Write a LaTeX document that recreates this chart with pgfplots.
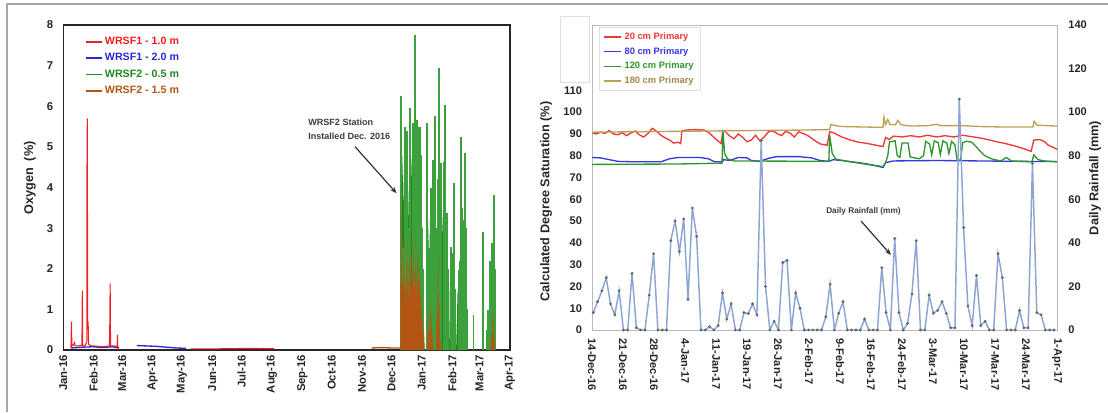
\documentclass[border=0pt]{standalone}
\usepackage{pgfplots}
\pgfplotsset{compat=1.18}
\usepackage{fontspec}
\setmainfont{Liberation Sans}
\usetikzlibrary{arrows.meta}

\definecolor{wred}{RGB}{240,30,30}
\definecolor{wblue}{RGB}{40,40,215}
\definecolor{wgreen}{RGB}{30,135,30}
\definecolor{wgreenlt}{RGB}{60,160,60}
\definecolor{wbrown}{RGB}{180,85,20}
\definecolor{r20}{RGB}{238,55,55}
\definecolor{b80}{RGB}{55,55,225}
\definecolor{g120}{RGB}{45,150,45}
\definecolor{t180}{RGB}{190,160,85}
\definecolor{rain}{RGB}{140,165,210}
\definecolor{annot}{RGB}{60,60,60}

\begin{document}
\begin{tikzpicture}
\path[use as bounding box] (0,0) rectangle (831pt,309pt);
\draw[gray!70, line width=0.8pt] (5.25pt,0pt) -- (5.25pt,306pt) -- (831pt,306pt);
% empty grey box left over in the source image
\draw[gray!25, line width=0.6pt] (420pt,247.5pt) rectangle (441.75pt,297pt);

%% ---------------- left panel: oxygen ----------------
\begin{axis}[
  at={(47.5pt,46.5pt)}, anchor=south west,
  scale only axis, width=335pt, height=243.75pt,
  xmin=0, xmax=456, ymin=0, ymax=8,
  ytick={0,1,...,8},
  xtick={0,31,60,91,121,152,182,213,244,274,305,335,366,397,425,456},
  xticklabels={Jan-16,Feb-16,Mar-16,Apr-16,May-16,Jun-16,Jul-16,Aug-16,Sep-16,Oct-16,Nov-16,Dec-16,Jan-17,Feb-17,Mar-17,Apr-17},
  x tick label style={rotate=90, anchor=east},
  tick label style={font=\bfseries\fontsize{8.5}{10}\selectfont, text=black!85},
  yticklabel shift=4pt,
  /pgf/number format/assume math mode=true,
  major tick length=0pt,
  axis line style={black!85, line width=1.2pt},
  legend style={at={(0.040,0.980)}, anchor=north west, draw=none, fill=none,
    font=\bfseries\fontsize{8}{9.5}\selectfont, row sep=1.2pt},
  legend cell align=left,
  legend image code/.code={\draw[#1] (0pt,0pt) -- (11.5pt,0pt);},
]
\addlegendimage{wred, line width=1.1pt}
\addlegendentry{\textcolor{wred}{WRSF1 - 1.0 m}}
\addlegendimage{wblue, line width=1.1pt}
\addlegendentry{\textcolor{wblue}{WRSF1 - 2.0 m}}
\addlegendimage{wgreen, line width=1.1pt}
\addlegendentry{\textcolor{wgreen}{WRSF2 - 0.5 m}}
\addlegendimage{wbrown, line width=1.1pt}
\addlegendentry{\textcolor{wbrown}{WRSF2 - 1.5 m}}

% WRSF1 - 2.0 m
\addplot[wblue, line width=1pt, forget plot] coordinates {
(8,0.05)(14,0.06)(20,0.07)(30,0.08)(40,0.06)(50,0.08)(57,0.05)};
\addplot[wblue, line width=1pt, forget plot] coordinates {
(75,0.11)(85,0.1)(95,0.09)(105,0.07)(115,0.05)(125,0.04)};
% WRSF1 - 1.0 m
\addplot[wred, line width=0.8pt, forget plot] coordinates {
(7.8,0.05)(8.3,0.7)(8.7,0.1)(10,0.12)(11.5,0.18)(12,0.1)(15,0.1)(19,0.12)(19.4,1.46)
(19.8,0.1)(22,0.1)(24,0.2)(24.2,4.68)(24.5,5.7)(24.8,0.6)(25.3,0.7)(25.8,0.15)(28,0.1)
(32,0.1)(40,0.08)(47,0.1)(47.4,0.57)(47.8,1.64)(48.2,0.1)(52,0.1)(55,0.08)(55.2,0.37)
(55.6,0.05)(56,0)};
\addplot[wred, line width=0.8pt, forget plot] coordinates {
(130,0.03)(160,0.03)(190,0.04)(215,0.03)};
% WRSF2 - 0.5 m
\addplot[fill=wgreen, draw=none, forget plot] coordinates {
(344,0)(344.5,4.5)(345.5,3.8)(346.5,4.8)(347.5,3.5)(348.5,4.2)(349.5,3.0)(350.5,4.5)
(351.5,2.5)(352.5,3.8)(353.5,4.5)(354.5,3.2)(355.5,4.8)(356.5,3.5)(357.5,4.2)(358.5,3.0)
(359.5,5.0)(360.5,4.0)(361.5,4.5)(362.5,3.5)(363.5,4.8)(364.5,4.2)(365.5,3.0)(366.5,2.0)
(367.5,1.0)(368.5,0.3)(369,0)(370.5,0)(371,1.5)(371.5,3.8)(372.5,3.0)(373.5,2.0)
(374.5,3.5)(375.5,2.5)(376.5,3.8)(377.5,4.0)(378.5,2.5)(379.5,1.5)(380.5,2.5)(381.5,3.0)
(382.5,4.0)(383.5,4.2)(384.5,3.2)(385.5,2.5)(386.5,3.5)(387.5,2.8)(388.5,2.0)(389.5,3.0)
(390.5,3.5)(391.5,2.4)(392.5,1.0)(393.5,0.5)(394,0)(394.5,1.5)(395.5,2.2)(396.5,1.8)
(397.5,2.4)(398.5,1.0)(399.5,0)(401,0)(401.5,0.5)(402.5,1.5)(403.5,1.0)(404.5,2.0)
(405.5,2.5)(406.5,3.0)(407.5,3.2)(408.5,2.8)(409.5,3.0)(410.5,3.4)(411.5,2.2)(412.5,0.5)
(413,0)(433,0)(433.5,0.3)(434.5,0.8)(435.5,1.5)(436.5,1.2)(437.5,2.0)(438.5,2.6)
(439.5,2.8)(440.5,1.0)(441,0)} \closedcycle;
\addplot[ycomb, wgreenlt, line width=1.3pt, forget plot] coordinates {
(344.7,6.26)(346.5,2.5)(348.8,5.5)(350.5,5.4)(352,3.0)(353.9,5.95)(356.6,5.58)(358,3.5)
(359,7.76)(360.7,5.66)(362.5,5.5)(363.5,5.5)(364.5,5.5)(365.5,4.8)(366.5,3.0)(367.5,2.0)
(371.6,5.6)(373.5,2.5)(375,4.0)(377.1,4.68)(379.4,5.75)(381.5,3.0)(382,4.2)(383.5,6.94)
(385.2,4.6)(388,4.64)(389,3.5)(390,6.03)(392,3.37)(393,2.0)(395.8,2.54)(397,2.4)
(398.8,4.1)(400,1.5)(403.3,1.97)(404.5,2.2)(406,5.24)(407.2,3.5)(408.5,3.2)(410.1,4.86)
(411,3.0)(412.5,1.0)(418.6,0.86)(428.8,2.91)(432.5,0.5)(433.9,0.98)(435.5,2.2)
(437.3,2.63)(440,3.82)(441,2.0)};
% WRSF2 - 1.5 m
\addplot[wbrown, line width=1pt, forget plot] coordinates {
(314.8,0.05)(325,0.06)(335,0.05)(343.7,0.05)};
\addplot[fill=wbrown, draw=none, forget plot] coordinates {
(344,0)(344.5,4.0)(345,3.2)(345.5,0.8)(346,2.6)(346.5,0.9)(347,2.2)(347.5,1.0)(348,2.9)
(348.5,0.8)(349,1.9)(349.5,0.7)(350,2.4)(350.5,1.1)(351,2.7)(351.5,0.9)(352,2.0)(352.5,0.8)
(353,2.6)(353.5,1.0)(354,2.2)(354.5,0.9)(355,3.2)(355.5,1.1)(356,2.4)(356.5,0.8)(357,2.8)
(357.5,1.0)(358,2.2)(358.5,0.9)(359,2.9)(359.5,1.2)(360,1.9)(360.5,0.8)(361,2.6)(361.5,1.0)
(362,2.2)(362.5,0.9)(363,2.8)(363.5,1.0)(364,2.0)(364.5,0.7)(365,1.6)(365.5,0.5)(366,1.2)
(366.5,0.3)(367,0.8)(368,0.3)(368.5,0)(371.5,0)(372,0.8)(372.5,0.2)(373,1.2)(373.5,0.2)
(374,0.6)(374.5,0.1)(375,1.4)(375.5,0.2)(376,1.0)(376.5,0.1)(377,0.5)(377.5,0)(380.5,0)
(381,1.0)(381.5,0.2)(382,1.8)(382.5,0.4)(383,2.4)(383.5,0.5)(384,1.2)(384.5,0.1)(385,0.3)
(385.5,0)(436,0)(437,0.4)(437.5,0.1)(438,0.9)(438.5,0.2)(439,1.1)(439.5,0.2)(440,0.3)(440.5,0)} \closedcycle;
\end{axis}

%% ---------------- right panel: saturation ----------------
\begin{axis}[
  at={(444pt,61.5pt)}, anchor=south west,
  scale only axis, width=348.75pt, height=228.75pt,
  xmin=0, xmax=108, ymin=0, ymax=140,
  ytick={0,10,...,110}, ytick pos=left, xtick pos=bottom,
  xtick={0,7.2,14.4,21.6,28.8,36,43.2,50.4,57.6,64.8,72,79.2,86.4,93.6,100.8,108},
  xticklabels={14-Dec-16,21-Dec-16,28-Dec-16,4-Jan-17,11-Jan-17,19-Jan-17,26-Jan-17,2-Feb-17,9-Feb-17,16-Feb-17,24-Feb-17,3-Mar-17,10-Mar-17,17-Mar-17,24-Mar-17,1-Apr-17},
  x tick label style={rotate=-90, anchor=west},
  xticklabel shift=3pt, yticklabel shift=4pt,
  tick label style={font=\bfseries\fontsize{8.3}{10}\selectfont, text=black!85},
  /pgf/number format/assume math mode=true,
  major tick length=0pt,
  axis line style={gray!55, line width=0.6pt},
  legend style={at={(0.015,0.993)}, anchor=north west, draw=gray!25, fill=white,
    font=\bfseries\fontsize{7}{8.5}\selectfont, row sep=0.4pt},
  legend cell align=left,
  legend image code/.code={\draw[#1] (0pt,0pt) -- (13pt,0pt);},
]
\addplot[r20, line width=1pt] coordinates {
(0,90.5)(1,90)(2,90.8)(3,90.2)(4,91.6)(5,90)(6,89.6)(7,90.6)(8,89.2)(9,90.4)(10,91.4)
(11,89.6)(12,88.6)(13,90.2)(14,92.6)(15,91.2)(16,89.4)(17,88.2)(18,87.2)(19,85.8)(20,86.2)
(20.6,85.6)(20.9,91.4)(22,91.8)(24,92)(26,91.8)(27,90.8)(28,89)(29,87.2)(30,85.6)(30.4,91.6)
(31,91)(32,89)(33,87.8)(34,90)(35,88.4)(36,86.4)(37,87.2)(38,89.4)(39,86.8)(40,88.6)(41,91)
(42,91.4)(43,90.2)(44,89.2)(45,91.2)(46,90.4)(47,88.6)(48,91)(49,90.2)(50,89.4)(51,88)
(52,86.6)(53,85.4)(54.6,84.8)(55.2,91)(56,90.6)(58,88.6)(60,87.2)(62,86.2)(64,85.6)(66,84.8)
(67.6,84.2)(68.2,88.4)(69,87.4)(70,89)(72,88.6)(74,89.2)(76,88.6)(78,89.4)(80,88.6)(82,89.2)
(84,88.6)(86,89.4)(88,88.8)(90,88.2)(92,87.4)(94,86.4)(96,85.6)(98,84.6)(100,83.4)(102,82)
(102.6,87.2)(104,87.4)(105,86.6)(106,84.8)(108,83)};
\addlegendentry{\textcolor{r20}{20 cm Primary}}
\addplot[b80, line width=1pt] coordinates {
(0,79.2)(2,79)(4,78.2)(6,77.4)(10,77.2)(16,77.2)(18,78.6)(20,79.2)(25,79.2)(27,78.6)
(28.5,77.2)(30.3,77.2)(30.6,78.2)(32,77.8)(34,79.2)(36,79)(37,77.8)(39,77.4)(41,78.8)
(43,79.6)(48,79.6)(51,79)(53,77.8)(55,77.4)(56,78.2)(58,77.8)(62,76.8)(65,75.8)(67.6,74.6)
(68.2,76.8)(70,77.6)(80,77.8)(90,77.6)(100,77.4)(108,77.3)};
\addlegendentry{\textcolor{b80}{80 cm Primary}}
\addplot[g120, line width=1pt] coordinates {
(0,76)(10,76.1)(20,76.2)(30.2,76.6)(30.4,91.5)(30.8,81)(31.5,78.5)(33,77.6)(45,77.5)
(55,77.4)(55.2,89.4)(55.8,81)(56.6,78.4)(60,77.2)(64,76)(67.6,75)(68.2,77)(68.7,80)
(69.1,86.4)(70.4,86.8)(70.9,80)(71.5,79.2)(72,85.8)(73.4,85.8)(73.9,79.4)(76,78.6)(77,80)
(77.5,86.6)(78.4,85.4)(78.9,80.4)(79.5,86.8)(80.4,86)(80.9,80.6)(81.5,86.8)(82.4,85.8)
(82.9,81)(83.5,86.6)(84.3,85)(84.8,78)(85.6,78)(86.1,86)(87,86.6)(88.2,86.2)(89.2,84.2)
(90.2,82)(91.2,80)(93,78.4)(95,77.6)(96.2,79.2)(97.4,77.6)(102.2,77.2)(102.6,80.4)
(103.6,78.2)(105,77.6)(108,77.2)};
\addlegendentry{\textcolor{g120}{120 cm Primary}}
\addplot[t180, line width=1pt] coordinates {
(0,90.8)(10,91)(20,91.2)(30,91.4)(40,91.6)(50,91.8)(55.2,92)(55.5,94.4)(56.5,93.8)(58,93.4)
(67.6,93)(67.8,97.6)(68.2,94.4)(68.7,96.6)(69.2,94.4)(70.5,94.2)(71,96.2)(71.8,94.2)
(74,93.6)(78,93.8)(80,94.4)(81,93.8)(86,93.8)(90,93.4)(95,93.2)(102.4,93.2)(102.7,95.8)
(103.4,94)(108,93.6)};
\addlegendentry{\textcolor{t180!85!black}{180 cm Primary}}
\end{axis}

%% rainfall on the right-hand axis
\begin{axis}[
  at={(444pt,61.5pt)}, anchor=south west,
  scale only axis, width=348.75pt, height=228.75pt,
  xmin=0, xmax=108, ymin=0, ymax=140,
  axis x line=none, axis y line*=right,
  ytick={0,20,...,140}, yticklabel shift=5pt,
  tick label style={font=\bfseries\fontsize{8.3}{10}\selectfont, text=black!85},
  /pgf/number format/assume math mode=true,
  major tick length=0pt,
  axis line style={gray!55, line width=0.6pt},
]
\addplot[rain, line width=1.1pt, mark=*, mark size=0.4pt,
  mark options={fill=black!60, draw=black!60}] coordinates {
(0.3,8)(1.3,13)(2.3,18)(3.3,24)(4.3,12)(5.3,7)(6.3,18)(7.3,0)(8.3,0)(9.3,26)(10.3,1)
(11.3,0)(12.3,0)(13.3,16)(14.3,35)(15.3,0)(16.3,0)(17.3,0)(18.3,41)(19.3,50)(20.3,36)
(21.3,51)(22.3,14)(23.3,56)(24.3,43)(25.3,0)(26.3,0)(27.3,1.5)(28.3,0)(29.3,2)(30.3,17)
(31.3,5)(32.3,12)(33.3,0)(34.3,0)(35.3,8)(36.3,7.5)(37.3,12)(38.3,7)(39.3,87)(40.3,20)
(41.3,0)(42.3,4)(43.3,0)(44.3,31)(45.3,32)(46.3,0)(47.3,17)(48.3,10)(49.3,0)(50.3,0)
(51.3,0)(52.3,0)(53.3,0)(54.3,6)(55.3,21)(56.3,0)(57.3,7.7)(58.3,13)(59.3,0)(60.3,0)
(61.3,0)(62.3,0)(63.3,5)(64.3,0)(65.3,0)(66.3,0)(67.3,28.6)(68.3,8)(69.3,0)(70.3,42)
(71.3,8)(72.3,0)(73.3,3)(74.3,16.5)(75.3,41)(76.3,0)(77.3,0)(78.3,16)(79.3,7.7)(80.3,9)
(81.3,13)(82.3,7.6)(83.3,1)(84.3,1)(85.3,106)(86.3,47)(87.3,11)(88.3,2)(89.3,25)(90.3,2)
(91.3,4)(92.3,0)(93.3,0)(94.3,35)(95.3,24)(96.3,0)(97.3,0)(98.3,0)(99.3,9)(100.3,1)
(101.3,1)(102.3,76.5)(103.3,8)(104.3,7)(105.3,0)(106.3,0)(107.3,0)};
\end{axis}

%% axis titles and notes
\node[rotate=90, font=\bfseries\fontsize{9.5}{11}\selectfont, text=black!85] at (22.5pt,175.5pt) {Oxygen~~(\%)};
\node[rotate=90, font=\bfseries\fontsize{9.5}{11}\selectfont, text=black!85] at (409.5pt,157.9pt) {Calculated Degree Saturation (\%)};
\node[rotate=90, font=\bfseries\fontsize{9.5}{11}\selectfont, text=black!85] at (821.25pt,175.5pt) {Daily Rainfall (mm)};

\node[anchor=west, align=left, inner sep=0pt, text=annot,
  font=\bfseries\fontsize{6.8}{10.5}\selectfont] at (231pt,211.9pt) {WRSF2 Station\\Installed Dec. 2016};
\draw[-{Stealth[length=5pt]}, line width=0.9pt, black!80] (266.25pt,199pt) -- (297.5pt,164pt);

\node[inner sep=0pt, text=annot, font=\bfseries\fontsize{6.2}{8}\selectfont] at (647.6pt,150.75pt) {Daily Rainfall (mm)};
\draw[-{Stealth[length=5pt]}, line width=0.9pt, black!80] (645.75pt,143.25pt) -- (668.25pt,117.75pt);
\end{tikzpicture}
\end{document}
